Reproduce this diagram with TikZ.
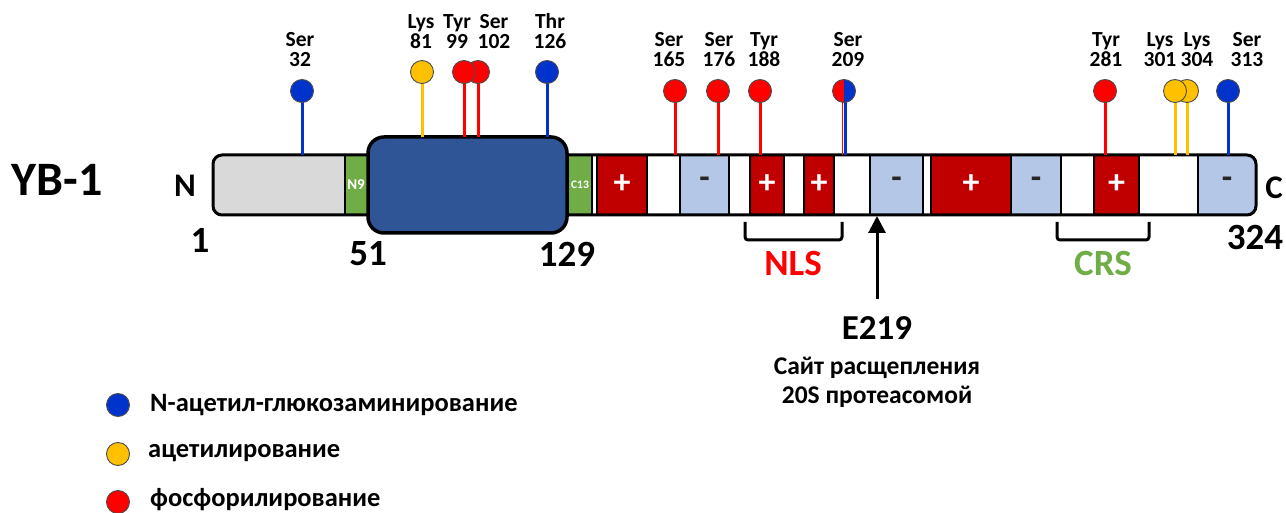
\documentclass[tikz,border=0pt]{standalone}
\usepackage{fontspec}
\setmainfont{Carlito}
\usetikzlibrary{arrows.meta}
\definecolor{cgray}{HTML}{D9D9D9}
\definecolor{cgreen}{HTML}{70AD47}
\definecolor{cdblue}{HTML}{2F5597}
\definecolor{cdred}{HTML}{C00000}
\definecolor{clblue}{HTML}{B4C7E7}
\definecolor{pblue}{HTML}{0033CC}
\definecolor{pred}{HTML}{FF0000}
\definecolor{porange}{HTML}{FFC000}
\tikzset{
  x=1pt, y=-1pt,
  pinball/.style={circle, draw=black!70, line width=0.9pt, minimum size=23pt, inner sep=0pt},
  stick/.style={line width=3pt},
  plabel/.style={anchor=base, inner sep=0pt, font=\bfseries\fontsize{21.5}{21.5}\selectfont},
  seg/.style={draw=black, line width=2.5pt},
  sign/.style={inner sep=0pt, font=\bfseries\fontsize{34}{34}\selectfont},
  bigtxt/.style={inner sep=0pt, font=\bfseries\fontsize{37}{37}\selectfont},
  legtxt/.style={anchor=west, inner sep=0pt, font=\bfseries\fontsize{26.5}{26.5}\selectfont},
  bracket/.style={line width=3pt, rounded corners=3pt},
}
\begin{document}
\begin{tikzpicture}
\useasboundingbox (0,0) rectangle (1286,513);
% ---- bar segments
\begin{scope}
\clip[rounded corners=9pt] (213,155) rectangle (1256,215);
\foreach \a/\b/\c in {213/345/cgray, 345/368/cgreen, 567/592/cgreen, 592/597/white,
  597/647/cdred, 647/680/white, 680/729/clblue, 729/750/white, 750/784/cdred,
  784/804/white, 804/834/cdred, 834/870/white, 870/923/clblue, 923/931/white,
  931/1011/cdred, 1011/1061/clblue, 1061/1094/white, 1094/1139/cdred,
  1139/1198/white, 1198/1256/clblue}
  \draw[seg, fill=\c] (\a,155) rectangle (\b,215);
\end{scope}
\draw[line width=3pt, rounded corners=9pt] (213,155) rectangle (1256,215);
% ---- cold shock domain
\draw[line width=3.5pt, rounded corners=16pt, fill=cdblue] (368,137) rectangle (567,233);
\node[inner sep=0pt, text=white, font=\bfseries\fontsize{15}{15}\selectfont] (n9) at (356,185) {N9};
\node[inner sep=0pt, text=white, font=\bfseries\fontsize{11.5}{11.5}\selectfont] (c13) at (580,185) {C13};
% ---- charge signs
\foreach \x [count=\i] in {622,767,819,971,1116.5}
  \node[sign, text=white] (plus\i) at (\x,184) {+};
\foreach \x [count=\i] in {704.5,896.5,1036,1227}
  \node[sign, text=black!85] (minus\i) at (\x,183) {-};
% ---- modification pins
\foreach \nm/\x/\yc/\yb/\c in {s32/302/91/155/pblue, k81/422/72/137/porange,
  s102/478/72/137/pred, t99/464/72/137/pred, t126/547/72/137/pblue,
  s165/675/91/155/pred, s176/718/91/155/pred, y188/760/91/155/pred,
  y281/1105/91/155/pred, k304/1187/91/155/porange, k301/1175/91/155/porange,
  s313/1228/91/155/pblue}
{
  \coordinate (\nm base) at (\x,\yb);
  \coordinate (\nm top) at (\x,\yc);
  \draw[stick, \c] (\nm base) -- (\nm top);
  \node[pinball, fill=\c] (\nm) at (\nm top) {};
}
% Ser 209 split
\coordinate (s209base) at (844,155);
\coordinate (s209top) at (844,91);
\draw[stick, pblue] ([xshift=1pt]s209base) -- ([xshift=1pt]s209top);
\draw[line width=1.3pt, pred] ([xshift=-1.2pt]s209base) -- ([xshift=-1.2pt]s209top);
\begin{scope}
\clip (832,78) rectangle (844,104);
\fill[pred] (s209top) circle[radius=11.5pt];
\end{scope}
\begin{scope}
\clip (844,78) rectangle (856,104);
\fill[pblue] (s209top) circle[radius=11.5pt];
\end{scope}
\node[pinball] (s209) at (s209top) {};
% ---- pin labels (residue name above, number below)
\foreach \nm/\x/\y/\res/\num in {s32/300/67/Ser/32, k81/421/49/Lys/81, t99/457/49/Tyr/99,
  s102/494/49/Ser/102, t126/550/49/Thr/126, s165/669/67/Ser/165, s176/719/67/Ser/176,
  y188/764/67/Tyr/188, s209/848/67/Ser/209, y281/1106/67/Tyr/281, k301/1160/67/Lys/301,
  k304/1197/67/Lys/304, s313/1247/67/Ser/313}
{
  \node[plabel] (l\nm res) at (\x,{\y-20}) {\res};
  \node[plabel] (l\nm num) at (\x,\y) {\num};
}
% ---- names & numbers
\node[inner sep=0pt, font=\bfseries\fontsize{48}{48}\selectfont] (yb1) at (57,180) {YB-1};
\node[inner sep=0pt, font=\bfseries\fontsize{33}{33}\selectfont] (nterm) at (185,186) {N};
\node[inner sep=0pt, font=\bfseries\fontsize{33}{33}\selectfont] (cterm) at (1274,188) {C};
\node[bigtxt] (n1) at (200,240) {1};
\node[bigtxt] (n51) at (368,254) {51};
\node[bigtxt] (n129) at (567,254) {129};
\node[bigtxt] (n324) at (1255,237) {324};
% ---- NLS / CRS
\draw[bracket] (745,222) -- (745,240) -- (842,240) -- (842,222);
\node[bigtxt, text=pred] (nls) at (793,263) {NLS};
\draw[bracket] (1057,222) -- (1057,240) -- (1149,240) -- (1149,222);
\node[bigtxt, text=cgreen] (crs) at (1103,263) {CRS};
% ---- cleavage site
\coordinate (arrtip) at (877,216);
\coordinate (arrbase) at (877,299);
\draw[line width=3pt, -{Triangle[length=17pt,width=17pt]}] (arrbase) -- (arrtip);
\node[bigtxt, font=\bfseries\fontsize{35}{35}\selectfont] (e219) at (877,328) {E219};
\node[inner sep=0pt, align=center, font=\bfseries\fontsize{25.5}{29}\selectfont] (cleave) at (877,382) {Сайт расщепления\\20S протеасомой};
% ---- legend
\node[pinball, fill=pblue] (leg1) at (118,405) {};
\node[pinball, fill=porange] (leg2) at (118,454) {};
\node[pinball, fill=pred] (leg3) at (118,502) {};
\node[legtxt] (lt1) at (150,405) {N-ацетил-глюкозаминирование};
\node[legtxt] (lt2) at (148,453) {ацетилирование};
\node[legtxt] (lt3) at (150,500) {фосфорилирование};
\end{tikzpicture}
\end{document}
